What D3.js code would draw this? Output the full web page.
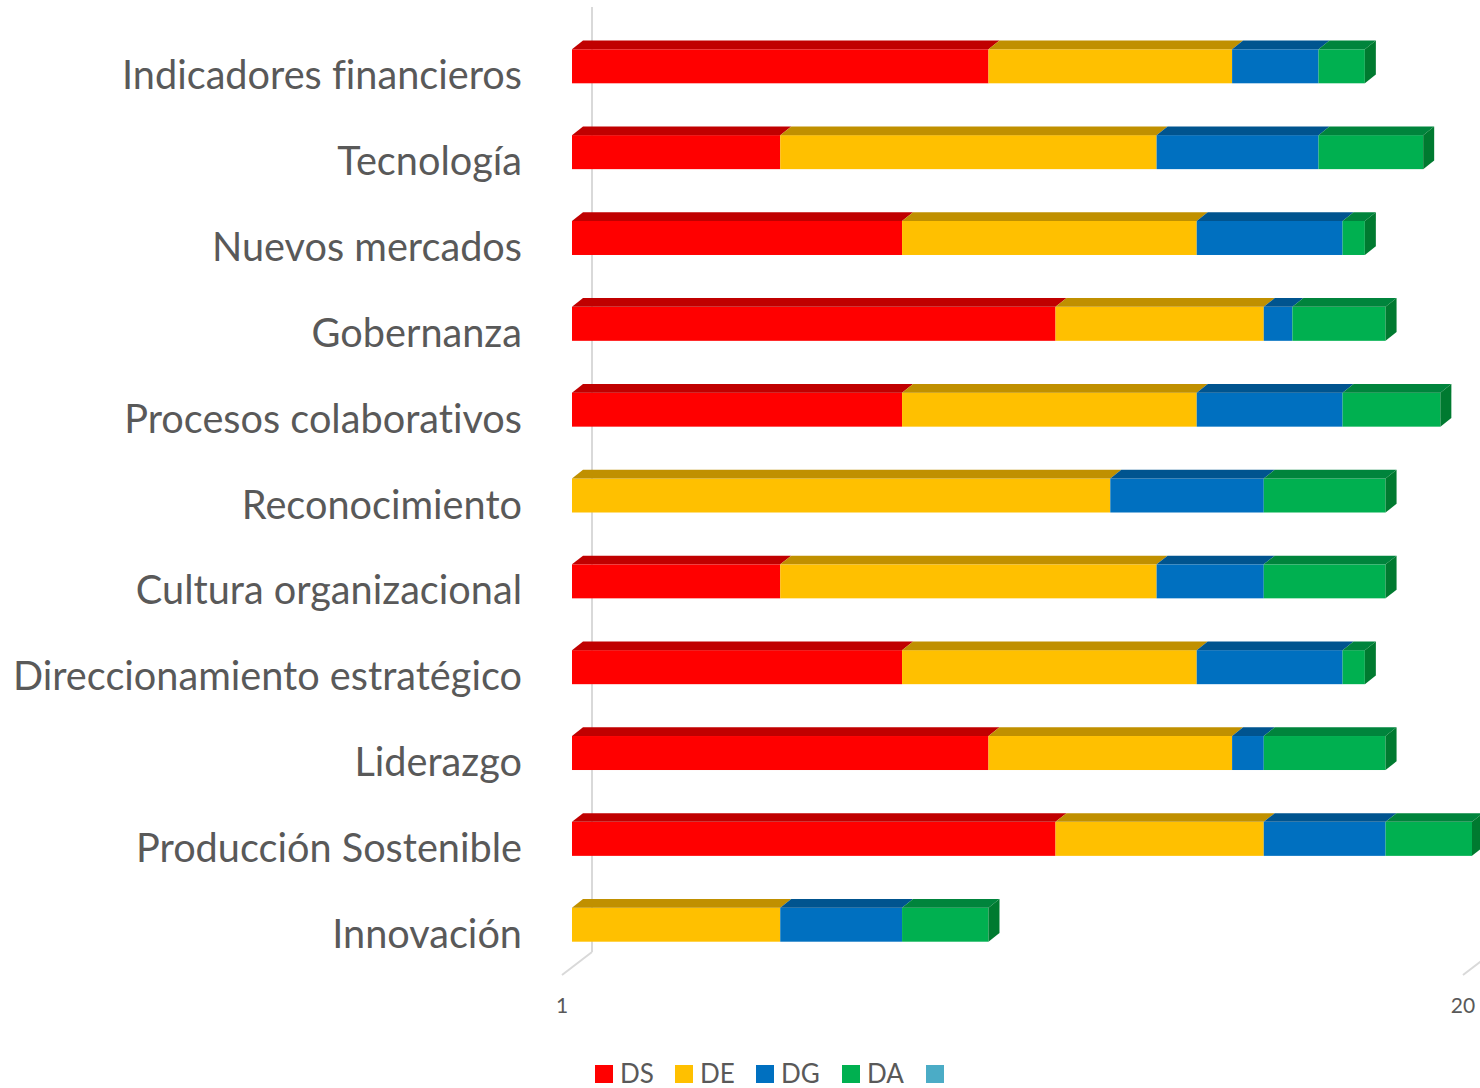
<!DOCTYPE html>
<html><head><meta charset="utf-8">
<script src="https://cdn.jsdelivr.net/npm/d3@7"></script>
<style>body{margin:0;background:#fff}svg{display:block}text{font-variant-ligatures:none;font-feature-settings:"liga" 0}</style>
</head><body>
<svg id="c" width="1480" height="1088"></svg>
<script>
const categories = ["Indicadores financieros","Tecnología","Nuevos mercados","Gobernanza","Procesos colaborativos","Reconocimiento","Cultura organizacional","Direccionamiento estratégico","Liderazgo","Producción Sostenible","Innovación"];
const seriesNames = ["DS","DE","DG","DA"];
const DS = [4,2,3,5,3,0,2,3,4,5,0];
const DE = [5,5,5,5,5,6,5,5,5,5,2];
const DG = [3,5,5,1,5,4,3,5,1,5,1];
const DA = [2,5,1,4,5,5,5,1,5,5,1];
const tickValues = [1,20];
const legendNames = ["DS","DE","DG","DA",""];

const frontColors = ["#FF0000","#FFC000","#0070C0","#00B050","#4BACC6"];
const topColors   = ["#C00000","#C09000","#00548F","#00843C"];
const sideColors  = ["#BF0000","#BF9000","#00538F","#007A30"];

const svg = d3.select("#c");
const font = "Lato, 'Open Sans', sans-serif";

const rows = categories.map((c,i)=>({cat:c, DS:DS[i], DE:DE[i], DG:DG[i], DA:DA[i]}));
const stack = d3.stack().keys(seriesNames)(rows);

const x = d3.scaleLog().base(20).domain([1,20]).range([572,1472]);
const xFloor = d3.scaleLog().base(20).domain([1,20]).range([562,1463]);
const y = d3.scalePoint().domain(categories).range([49.3, 907.7]);
const barH = 34, dx = 11, dy = 8.7;

// axis lines (3D walls)
const g = svg.append("g");
g.append("line").attr("x1",592).attr("y1",7).attr("x2",592).attr("y2",952).attr("stroke","#d9d9d9").attr("stroke-width",2);
g.append("line").attr("x1",xFloor(1)).attr("y1",975).attr("x2",592).attr("y2",952).attr("stroke","#d9d9d9").attr("stroke-width",2);
g.append("line").attr("x1",xFloor(20)).attr("y1",975).attr("x2",xFloor(20)+30).attr("y2",952).attr("stroke","#d9d9d9").attr("stroke-width",2);

// tick labels
g.selectAll("text.tick").data(tickValues).enter().append("text")
  .attr("class","tick").attr("x",d=>xFloor(d)).attr("y",1013)
  .attr("text-anchor","middle").attr("font-family",font).attr("font-size",21).attr("fill","#595959")
  .text(d=>d);

// bars
const bars = svg.append("g");
categories.forEach((cat,i)=>{
  const yt = y(cat);
  let lastIdx = -1, lastX1 = null;
  stack.forEach((s,k)=>{
    const d = s[i];
    if (d[1]-d[0] <= 0) return;
    const x0 = x(Math.max(1,d[0])), x1 = x(d[1]);
    bars.append("rect").attr("x",x0).attr("y",yt).attr("width",x1-x0).attr("height",barH).attr("fill",frontColors[k]);
    bars.append("path").attr("d",`M${x0},${yt}L${x1},${yt}L${x1+dx},${yt-dy}L${x0+dx},${yt-dy}Z`).attr("fill",topColors[k]);
    lastIdx = k; lastX1 = x1;
  });
  if (lastIdx>=0){
    bars.append("path").attr("d",`M${lastX1},${yt}L${lastX1+dx},${yt-dy}L${lastX1+dx},${yt-dy+barH}L${lastX1},${yt+barH}Z`).attr("fill",sideColors[lastIdx]);
  }
});

// category labels
const labels = svg.append("g");
labels.selectAll("text").data(categories).enter().append("text")
  .attr("x",522).attr("y",d=>y(d)+40)
  .attr("text-anchor","end").attr("font-family",font).attr("font-size",38).attr("fill","#595959")
  .text(d=>d);
// fit font size so the first label spans ~400px
const w0 = labels.select("text").node().getComputedTextLength();
const fs = 38*400/w0;
labels.selectAll("text").attr("font-size",fs);

// legend
const legX = [595,675,756,842,926];
const leg = svg.append("g");
legendNames.forEach((n,i)=>{
  leg.append("rect").attr("x",legX[i]).attr("y",1065).attr("width",18).attr("height",18).attr("fill",frontColors[i]);
  if (n) leg.append("text").attr("x",legX[i]+25).attr("y",1083).attr("font-family",font).attr("font-size",26).attr("fill","#595959").text(n);
});
</script>
</body></html>
